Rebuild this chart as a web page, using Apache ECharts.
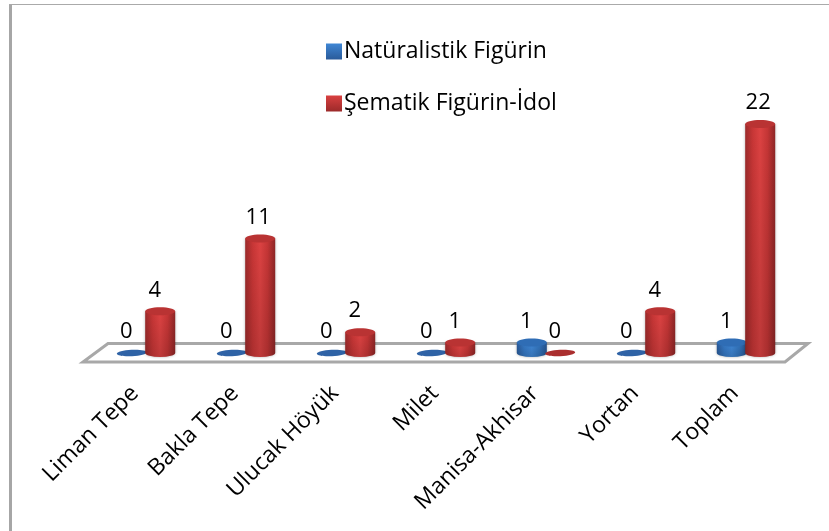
<!DOCTYPE html>
<html><head><meta charset="utf-8">
<style>html,body{margin:0;padding:0;background:#fff}#c{width:829px;height:531px;filter:blur(0.6px)}</style>
<script src="https://cdn.jsdelivr.net/npm/echarts@6/dist/echarts.min.js"></script></head>
<body><div id="c"></div>
<script>
const categories = ['Liman Tepe','Bakla Tepe','Ulucak Höyük','Milet','Manisa-Akhisar','Yortan','Toplam'];
const naturalistik = [0,0,0,0,1,0,1];
const sematik = [4,11,2,1,0,4,22];
const seriesNames = ['Natüralistik Figürin','Şematik Figürin-İdol'];

const FONT = 'Open Sans';
const RX = 15, RY = 4, OFFSET = 14.2;
const lin = (stops, vertical) => ({type:'linear',x:0,y:0,x2:vertical?0:1,y2:vertical?1:0,
  colorStops:stops.map((c,i)=>({offset:i/(stops.length-1),color:c}))});
const palette = {
  blue:{body:['#2a5b9a','#3578c4','#3f86d4','#3273bb','#265490'],top:'#2f6db5',flat:'#2f63a6',legend:['#3f86d4','#2a5b9a']},
  red:{body:['#9c2a2a','#c83636','#dc4242','#c43535','#8e2626'],top:'#b93333',flat:'#aa2e2e',legend:['#d94040','#9c2a2a']}
};
function cylinder(sign, pal){
  return function(params, api){
    const i = api.value(0), v = api.value(1);
    const base = api.coord([i,0]), top = api.coord([i,v]);
    const cx = base[0] + sign*OFFSET, y0 = base[1], y1 = top[1];
    if (v === 0) {
      return {type:'ellipse',shape:{cx:cx,cy:y0,rx:RX,ry:3.2},rotation:0.05,originX:cx,originY:y0,
        style:{fill:pal.flat}};
    }
    const body = `M${cx-RX} ${y1} L${cx-RX} ${y0} A${RX} ${RY} 0 0 0 ${cx+RX} ${y0} L${cx+RX} ${y1} Z`;
    return {type:'group',children:[
      {type:'path',shape:{pathData:body},
        style:{fill:lin(pal.body,false),shadowBlur:3,shadowColor:'rgba(0,0,0,0.3)'}},
      {type:'path',shape:{pathData:body},
        style:{fill:lin(['rgba(0,0,0,0)','rgba(0,0,0,0.14)'],true)}},
      {type:'ellipse',shape:{cx:cx,cy:y1,rx:RX,ry:RY},style:{fill:pal.top}}
    ]};
  };
}
function floor(params, api){
  const first = api.coord([0,0]), last = api.coord([categories.length-1,0]);
  const y = first[1], fl = first[0]-63, fr = last[0]+39, bl = first[0]-38, br = last[0]+62;
  return {type:'polygon',shape:{points:[[fl,y+9],[fr,y+9],[br,y-9.5],[bl,y-9.5]]},
    style:{fill:'#fff',stroke:'#a8a8a8',lineWidth:3,lineJoin:'miter'},silent:true};
}
function valueLabels(values, sign, rowKey){
  return {
    type:'custom',name:rowKey,silent:true,z:5,coordinateSystem:'cartesian2d',
    data:values.map((v,i)=>[i,v]),encode:{x:0,y:1},
    renderItem(params, api){
      const p = api.coord([api.value(0),api.value(1)]);
      const text = String(api.value(1));
      return {type:'text',style:{text:text,x:p[0]+sign*OFFSET-(text.length>1?2:5.5),y:p[1]-21,
        align:'center',verticalAlign:'middle',font:`22px "${FONT}"`,fill:'#000'}};
    }
  };
}
const chart = echarts.init(document.getElementById('c'),null,{renderer:'canvas'});
chart.setOption({
  animation:false,
  backgroundColor:'#fff',
  graphic:[
    {type:'rect',shape:{x:9,y:4,width:3,height:527},style:{fill:'#a6a6a6'},silent:true},
    {type:'rect',shape:{x:9,y:4,width:820,height:1},style:{fill:'#aaaaaa'},silent:true}
  ],
  grid:{left:96,width:700,top:103.2,bottom:178},
  legend:{
    left:321,top:35,orient:'vertical',itemWidth:16,itemHeight:16,itemGap:29,icon:'rect',
    textStyle:{fontFamily:FONT,fontSize:23,color:'#000',padding:[0,0,0,-3]},
    data:[
      {name:seriesNames[0],itemStyle:{color:lin(palette.blue.legend,true)}},
      {name:seriesNames[1],itemStyle:{color:lin(palette.red.legend,true)}}
    ]
  },
  xAxis:{type:'category',data:categories,axisLine:{show:false},axisTick:{show:false},
    axisLabel:{rotate:45,interval:0,margin:42,fontFamily:FONT,fontSize:23,color:'#000',verticalAlign:'bottom',padding:[0,4,0,0]}},
  yAxis:{type:'value',min:0,max:24,show:false},
  series:[
    {type:'custom',name:'floor',silent:true,z:1,data:[[0,0]],encode:{x:0,y:1},renderItem:floor},
    {type:'custom',name:seriesNames[0],z:2,data:naturalistik.map((v,i)=>[i,v]),encode:{x:0,y:1},
      itemStyle:{color:palette.blue.legend[0]},renderItem:cylinder(-1,palette.blue)},
    {type:'custom',name:seriesNames[1],z:3,data:sematik.map((v,i)=>[i,v]),encode:{x:0,y:1},
      itemStyle:{color:palette.red.legend[0]},renderItem:cylinder(1,palette.red)},
    valueLabels(naturalistik,-1,'naturalistikLabels'),
    valueLabels(sematik,1,'sematikLabels')
  ]
});
</script></body></html>
